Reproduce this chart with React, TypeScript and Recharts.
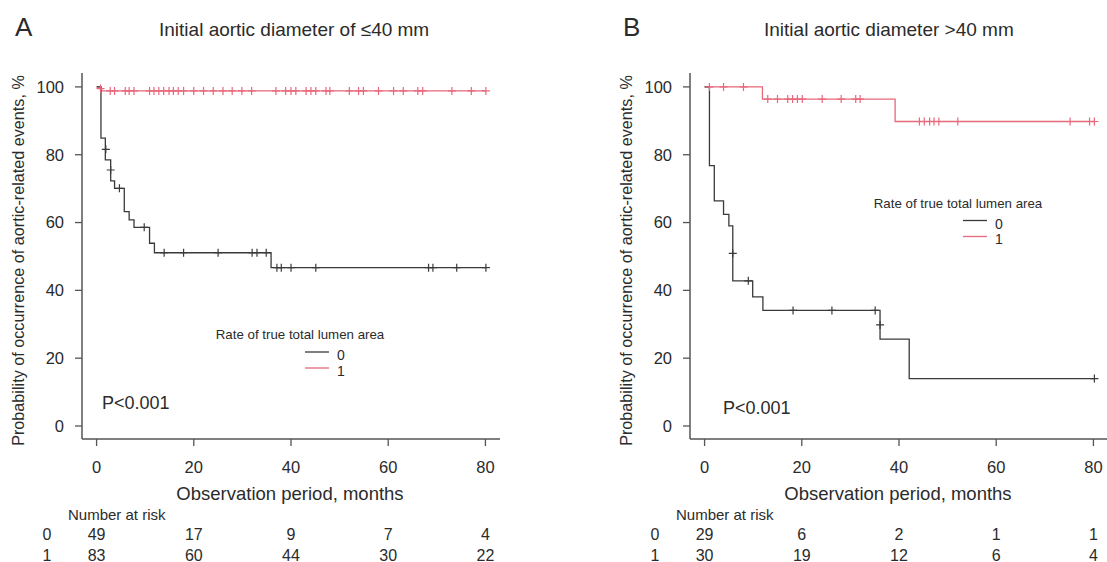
import React from 'react';
import { ComposedChart, Line, Scatter, XAxis, YAxis } from 'recharts';

// Kaplan-Meier steps: t = months, s = % without aortic-related events
const stepsA0 = [
  { t: 0, s: 100 }, { t: 0.9, s: 84.9 }, { t: 1.8, s: 78.5 }, { t: 2.9, s: 72.3 },
  { t: 3.7, s: 70.1 }, { t: 5.7, s: 63.2 }, { t: 6.7, s: 60.8 }, { t: 7.7, s: 58.6 },
  { t: 10.9, s: 53.9 }, { t: 11.9, s: 51.1 }, { t: 35.9, s: 46.7 }, { t: 80.1, s: 46.7 },
];
const stepsA1 = [{ t: 0, s: 100 }, { t: 0.9, s: 98.8 }, { t: 80.1, s: 98.8 }];
const stepsB0 = [
  { t: 0, s: 100 }, { t: 1.0, s: 76.8 }, { t: 2.0, s: 66.4 }, { t: 3.9, s: 62.4 },
  { t: 5.0, s: 59.0 }, { t: 5.8, s: 42.8 }, { t: 9.9, s: 38.1 }, { t: 12.0, s: 34.1 },
  { t: 36.1, s: 25.6 }, { t: 42.1, s: 14.0 }, { t: 80.2, s: 14.0 },
];
const stepsB1 = [{ t: 0, s: 100 }, { t: 11.9, s: 96.4 }, { t: 39.2, s: 89.8 }, { t: 80.2, s: 89.8 }];

// censored observations
const censA0 = [
  { t: 1.9, s: 81.6 }, { t: 2.9, s: 75.5 }, { t: 4.7, s: 70.1 }, { t: 9.8, s: 58.6 },
  { t: 13.9, s: 51.1 }, { t: 17.9, s: 51.1 }, { t: 25.0, s: 51.1 }, { t: 32.0, s: 51.1 },
  { t: 33.0, s: 51.1 }, { t: 34.9, s: 51.1 }, { t: 37.1, s: 46.7 }, { t: 38.0, s: 46.7 },
  { t: 40.0, s: 46.7 }, { t: 45.1, s: 46.7 }, { t: 68.3, s: 46.7 }, { t: 69.2, s: 46.7 },
  { t: 74.1, s: 46.7 }, { t: 80.1, s: 46.7 },
];
const censA1Times = [
  2.8, 3.7, 5.9, 6.7, 7.7, 10.9, 11.8, 12.8, 13.8, 14.9, 15.8, 16.8, 17.9, 20.0, 22.0, 24.0,
  26.0, 27.9, 29.9, 31.9, 36.9, 38.9, 40.0, 41.0, 43.1, 44.1, 45.1, 47.2, 48.0, 52.0, 53.9,
  54.9, 58.0, 61.1, 63.1, 66.1, 67.1, 73.1, 77.1, 80.1,
];
const censA1 = [{ t: 0.8, s: 99.5 }, ...censA1Times.map((t) => ({ t, s: 98.8 }))];
const censB0 = [
  { t: 5.8, s: 50.9 }, { t: 9.0, s: 42.8 }, { t: 18.2, s: 34.1 }, { t: 26.2, s: 34.1 },
  { t: 35.1, s: 34.1 }, { t: 36.1, s: 29.8 }, { t: 80.2, s: 14.0 },
];
const censB1 = [
  { t: 1.0, s: 100 }, { t: 3.9, s: 100 }, { t: 8.0, s: 100 },
  { t: 13.0, s: 96.4 }, { t: 15.0, s: 96.4 }, { t: 17.1, s: 96.4 }, { t: 18.1, s: 96.4 },
  { t: 19.1, s: 96.4 }, { t: 20.1, s: 96.4 }, { t: 24.2, s: 96.4 }, { t: 28.1, s: 96.4 },
  { t: 31.1, s: 96.4 }, { t: 32.0, s: 96.4 },
  { t: 44.2, s: 89.8 }, { t: 45.2, s: 89.8 }, { t: 46.3, s: 89.8 }, { t: 47.2, s: 89.8 },
  { t: 48.2, s: 89.8 }, { t: 52.1, s: 89.8 }, { t: 75.2, s: 89.8 }, { t: 79.2, s: 89.8 },
  { t: 80.2, s: 89.8 },
];

const xTicks = [0, 20, 40, 60, 80];
const yTicks = [0, 20, 40, 60, 80, 100];
const riskA0 = [49, 17, 9, 7, 4];
const riskA1 = [83, 60, 44, 30, 22];
const riskB0 = [29, 6, 2, 1, 1];
const riskB1 = [30, 19, 12, 6, 4];

const FONT = '"Liberation Sans", Arial, Helvetica, sans-serif';
const TEXT = '#2b2b2b';
const AXIS = '#555';
const BLACK = '#3a3a3a';
const RED = '#e8687c';

const plus = (color: string) => (props: any) => {
  const { cx, cy } = props;
  return (
    <path d={`M${cx - 4},${cy}H${cx + 4}M${cx},${cy - 4}V${cy + 4}`} stroke={color} strokeWidth={1.2} fill="none" />
  );
};

const makeTick = (r0: number[], r1: number[]) => (props: any) => {
  const { x, y, payload } = props;
  const i = xTicks.indexOf(payload.value);
  const common = { x, textAnchor: 'middle' as const, fill: TEXT, fontFamily: FONT };
  return (
    <g>
      <text {...common} y={y + 26.5} fontSize={16.5}>{payload.value}</text>
      <text {...common} y={y + 93.5} fontSize={16}>{r0[i]}</text>
      <text {...common} y={y + 114.5} fontSize={16}>{r1[i]}</text>
    </g>
  );
};

interface PanelProps {
  left: number;
  s0: any[];
  s1: any[];
  c0: any[];
  c1: any[];
  r0: number[];
  r1: number[];
}

const KMPanel: React.FC<PanelProps> = ({ left, s0, s1, c0, c1, r0, r1 }) => (
  <div style={{ position: 'absolute', left, top: 0 }}>
    <ComposedChart width={560} height={562} margin={{ top: 73, right: 60, bottom: 0, left: 22 }}>
      <XAxis
        type="number"
        dataKey="t"
        domain={[-3, 83]}
        ticks={xTicks}
        height={123}
        tickSize={7}
        tickMargin={0}
        axisLine={{ stroke: AXIS, strokeWidth: 1.5 }}
        tickLine={{ stroke: AXIS, strokeWidth: 1.3 }}
        tick={makeTick(r0, r1)}
        allowDataOverflow
      />
      <YAxis
        type="number"
        dataKey="s"
        domain={[-3.83, 104.1]}
        ticks={yTicks}
        width={60}
        tickSize={7}
        tickMargin={11}
        axisLine={{ stroke: AXIS, strokeWidth: 1.5 }}
        tickLine={{ stroke: AXIS, strokeWidth: 1.3 }}
        tick={{ fill: TEXT, fontSize: 16.5, fontFamily: FONT }}
        allowDataOverflow
      />
      <Line data={s1} dataKey="s" type="stepAfter" stroke={RED} strokeWidth={1.3} dot={false} isAnimationActive={false} />
      <Line data={s0} dataKey="s" type="stepAfter" stroke={BLACK} strokeWidth={1.3} dot={false} isAnimationActive={false} />
      <Scatter data={c1} dataKey="s" shape={plus(RED)} isAnimationActive={false} />
      <Scatter data={c0} dataKey="s" shape={plus(BLACK)} isAnimationActive={false} />
    </ComposedChart>
  </div>
);

const Labels: React.FC<{ dx: number; letter: string; title: string; titleX: number; legX: number; legY: number; pY: number; pX: number }> = ({
  dx, letter, title, titleX, legX, legY, pY, pX,
}) => (
  <g fill={TEXT} fontFamily={FONT}>
    <text x={15 + dx} y={36} fontSize={26}>{letter}</text>
    <text x={titleX} y={36} fontSize={19}>{title}</text>
    <text transform={`translate(${24 + dx},260.5) rotate(-90)`} textAnchor="middle" fontSize={16.2}>
      Probability of occurrence of aortic-related events, %
    </text>
    <text x={290 + dx} y={500} textAnchor="middle" fontSize={18.5}>Observation period, months</text>
    <text x={68 + dx} y={520} fontSize={15}>Number at risk</text>
    <text x={47 + dx} y={539.5} textAnchor="middle" fontSize={16}>0</text>
    <text x={47 + dx} y={560.5} textAnchor="middle" fontSize={16}>1</text>
    <text x={pX} y={pY} fontSize={18}>P&lt;0.001</text>
    <text x={legX} y={legY} textAnchor="middle" fontSize={13.3}>Rate of true total lumen area</text>
    <line x1={legX + 5} x2={legX + 29} y1={legY + 13} y2={legY + 13} stroke={BLACK} strokeWidth={1.3} />
    <line x1={legX + 5} x2={legX + 29} y1={legY + 29} y2={legY + 29} stroke={RED} strokeWidth={1.3} />
    <text x={legX + 37} y={legY + 21} fontSize={14}>0</text>
    <text x={legX + 37} y={legY + 36.5} fontSize={14}>1</text>
  </g>
);

export default function App() {
  return (
    <div style={{ position: 'absolute', left: 0, top: 0, width: 1107, height: 562, overflow: 'hidden', background: '#fff' }}>
      <KMPanel left={0} s0={stepsA0} s1={stepsA1} c0={censA0} c1={censA1} r0={riskA0} r1={riskA1} />
      <KMPanel left={608} s0={stepsB0} s1={stepsB1} c0={censB0} c1={censB1} r0={riskB0} r1={riskB1} />
      <svg width={1107} height={562} style={{ position: 'absolute', left: 0, top: 0, pointerEvents: 'none' }}>
        <Labels dx={0} letter="A" title="Initial aortic diameter of ≤40 mm" titleX={159} legX={300} legY={339} pX={102} pY={409.3} />
        <Labels dx={608} letter="B" title="Initial aortic diameter >40 mm" titleX={764} legX={958} legY={207.5} pX={723} pY={414.3} />
      </svg>
    </div>
  );
}
